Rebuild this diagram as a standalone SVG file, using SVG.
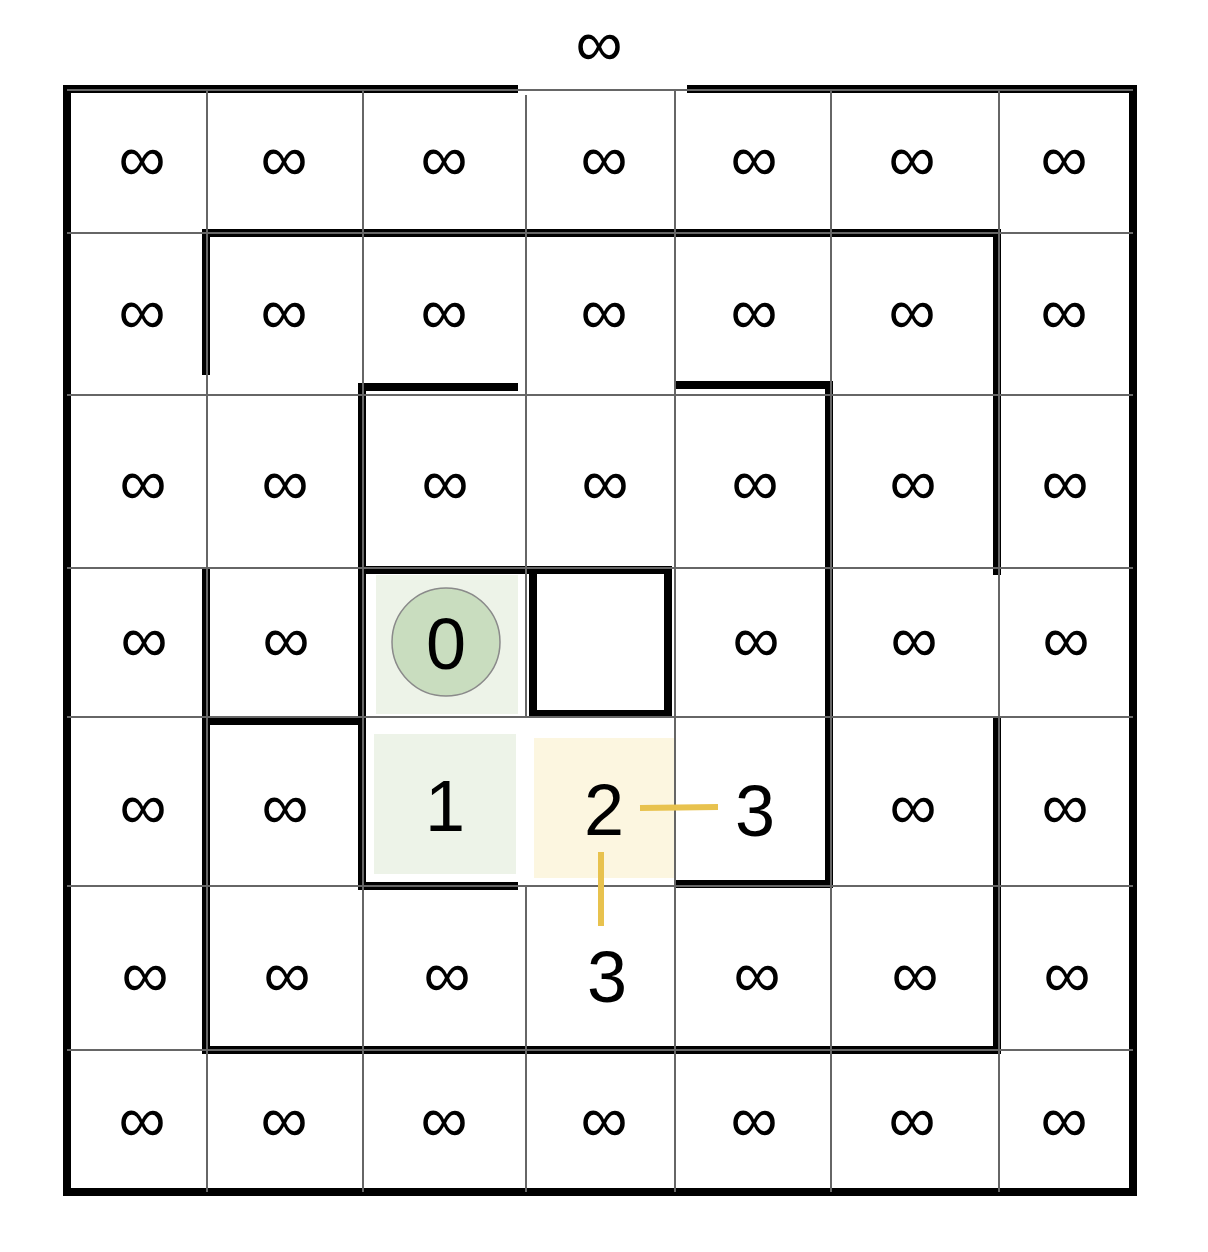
<svg xmlns="http://www.w3.org/2000/svg" width="1208" height="1252" viewBox="0 0 1208 1252">
<style>
.inf{font-family:"Liberation Sans",Arial,sans-serif;font-size:66px;text-anchor:middle;dominant-baseline:central;fill:#000}
.num{font-family:"Liberation Sans",Arial,sans-serif;font-size:72px;text-anchor:middle;fill:#000}
.grid line{stroke:#666;stroke-width:2}
.walls path{fill:none;stroke:#000;stroke-width:8;stroke-linejoin:miter}
.conn line{stroke:#E8C24E;stroke-width:6}
</style>
<rect width="1208" height="1252" fill="#fff"/>
<g id="shading">
<rect x="376" y="575" width="142" height="139" fill="#EDF3E8"/>
<rect x="374" y="734" width="142" height="140" fill="#EDF3E8"/>
<rect x="534" y="738" width="141" height="140" fill="#FCF6E0"/>
</g>
<g class="walls" id="walls">
<path d="M518,89 H67 V1192 H1133 V89 H687"/>
<path d="M206,375 V233 H997 V575"/>
<path d="M997,717 V1050 H206 V568"/>
<path d="M208,721 H358"/>
<path d="M518,387 H362 V886 H518"/>
<path d="M674,385 H829 V884 H674"/>
<path d="M362,570 H668 V714 H533 V570"/>
</g>
<g class="grid" id="grid">
<line x1="67" y1="90" x2="1133" y2="90"/>
<line x1="67" y1="233" x2="1133" y2="233"/>
<line x1="67" y1="395" x2="1133" y2="395"/>
<line x1="67" y1="568" x2="1133" y2="568"/>
<line x1="67" y1="717" x2="1133" y2="717"/>
<line x1="67" y1="886" x2="1133" y2="886"/>
<line x1="67" y1="1050" x2="1133" y2="1050"/>
<line x1="207" y1="90" x2="207" y2="1192"/>
<line x1="363" y1="90" x2="363" y2="1192"/>
<line x1="526" y1="95" x2="526" y2="717"/>
<line x1="526" y1="886" x2="526" y2="1192"/>
<line x1="675" y1="90" x2="675" y2="1192"/>
<line x1="831" y1="90" x2="831" y2="1192"/>
<line x1="999" y1="90" x2="999" y2="1192"/>
</g>
<text class="inf" x="599" y="43">∞</text>
<g id="cell-0-0"><text class="inf" x="142" y="158">∞</text></g>
<g id="cell-0-1"><text class="inf" x="284" y="158">∞</text></g>
<g id="cell-0-2"><text class="inf" x="444" y="158">∞</text></g>
<g id="cell-0-3"><text class="inf" x="604" y="158">∞</text></g>
<g id="cell-0-4"><text class="inf" x="754" y="158">∞</text></g>
<g id="cell-0-5"><text class="inf" x="912" y="158">∞</text></g>
<g id="cell-0-6"><text class="inf" x="1064" y="158">∞</text></g>
<g id="cell-1-0"><text class="inf" x="142" y="311">∞</text></g>
<g id="cell-1-1"><text class="inf" x="284" y="311">∞</text></g>
<g id="cell-1-2"><text class="inf" x="444" y="311">∞</text></g>
<g id="cell-1-3"><text class="inf" x="604" y="311">∞</text></g>
<g id="cell-1-4"><text class="inf" x="754" y="311">∞</text></g>
<g id="cell-1-5"><text class="inf" x="912" y="311">∞</text></g>
<g id="cell-1-6"><text class="inf" x="1064" y="311">∞</text></g>
<g id="cell-2-0"><text class="inf" x="143" y="482">∞</text></g>
<g id="cell-2-1"><text class="inf" x="285" y="482">∞</text></g>
<g id="cell-2-2"><text class="inf" x="445" y="482">∞</text></g>
<g id="cell-2-3"><text class="inf" x="605" y="482">∞</text></g>
<g id="cell-2-4"><text class="inf" x="755" y="482">∞</text></g>
<g id="cell-2-5"><text class="inf" x="913" y="482">∞</text></g>
<g id="cell-2-6"><text class="inf" x="1065" y="482">∞</text></g>
<g id="cell-3-0"><text class="inf" x="144" y="639">∞</text></g>
<g id="cell-3-1"><text class="inf" x="286" y="639">∞</text></g>
<g id="cell-3-2"><circle cx="446" cy="642" r="54" fill="#C9DDBF" stroke="#8A8A8A" stroke-width="1.5"/><text class="num" x="446" y="669">0</text></g>
<g id="cell-3-4"><text class="inf" x="756" y="639">∞</text></g>
<g id="cell-3-5"><text class="inf" x="914" y="639">∞</text></g>
<g id="cell-3-6"><text class="inf" x="1066" y="639">∞</text></g>
<g id="cell-4-0"><text class="inf" x="143" y="806">∞</text></g>
<g id="cell-4-1"><text class="inf" x="285" y="806">∞</text></g>
<g id="cell-4-2"><text class="num" x="445" y="831">1</text></g>
<g id="cell-4-3"><text class="num" x="604" y="835">2</text></g>
<g id="cell-4-4"><text class="num" x="755" y="836">3</text></g>
<g id="cell-4-5"><text class="inf" x="913" y="806">∞</text></g>
<g id="cell-4-6"><text class="inf" x="1065" y="806">∞</text></g>
<g id="cell-5-0"><text class="inf" x="145" y="974">∞</text></g>
<g id="cell-5-1"><text class="inf" x="287" y="974">∞</text></g>
<g id="cell-5-2"><text class="inf" x="447" y="974">∞</text></g>
<g id="cell-5-3"><text class="num" x="607" y="1002">3</text></g>
<g id="cell-5-4"><text class="inf" x="757" y="974">∞</text></g>
<g id="cell-5-5"><text class="inf" x="915" y="974">∞</text></g>
<g id="cell-5-6"><text class="inf" x="1067" y="974">∞</text></g>
<g id="cell-6-0"><text class="inf" x="142" y="1119">∞</text></g>
<g id="cell-6-1"><text class="inf" x="284" y="1119">∞</text></g>
<g id="cell-6-2"><text class="inf" x="444" y="1119">∞</text></g>
<g id="cell-6-3"><text class="inf" x="604" y="1119">∞</text></g>
<g id="cell-6-4"><text class="inf" x="754" y="1119">∞</text></g>
<g id="cell-6-5"><text class="inf" x="912" y="1119">∞</text></g>
<g id="cell-6-6"><text class="inf" x="1064" y="1119">∞</text></g>
<g class="conn" id="connectors">
<line x1="640" y1="808" x2="718" y2="807"/>
<line x1="601" y1="852" x2="601" y2="926"/>
</g>
</svg>
